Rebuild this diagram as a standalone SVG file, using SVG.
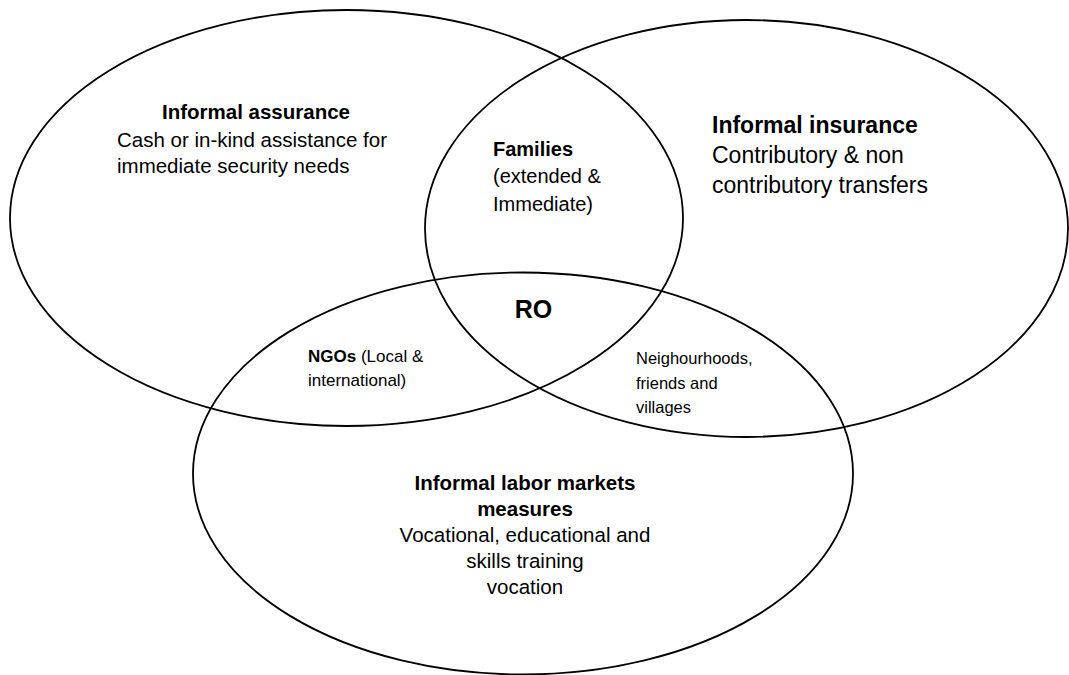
<svg xmlns="http://www.w3.org/2000/svg" width="1069" height="675" viewBox="0 0 1069 675">
<style>
.c{fill:none;stroke:#000;stroke-width:1.8}
text{font-family:"Liberation Sans",Arial,sans-serif;fill:#000}
.b{font-weight:bold}
</style>
<rect width="1069" height="675" fill="#fff"/>
<g id="circles">
<ellipse id="assurance" class="c" cx="346.5" cy="218" rx="336.5" ry="208"/>
<ellipse id="insurance" class="c" cx="746.5" cy="228.5" rx="321.5" ry="208.5"/>
<ellipse id="labor" class="c" cx="523" cy="473.5" rx="330" ry="201"/>
</g>
<g id="label-assurance" font-size="20.5">
<text class="b" x="256" y="119" text-anchor="middle">Informal assurance</text>
<text x="117" y="147">Cash or in-kind assistance for</text>
<text x="117" y="173">immediate security needs</text>
</g>
<g id="label-insurance" font-size="23">
<text class="b" x="712" y="133">Informal insurance</text>
<text x="712" y="163">Contributory &amp; non</text>
<text x="712" y="193">contributory transfers</text>
</g>
<g id="label-families" font-size="20">
<text class="b" x="493" y="156">Families</text>
<text x="493" y="183">(extended &amp;</text>
<text x="493" y="211">Immediate)</text>
</g>
<g id="label-ro">
<text class="b" x="533.5" y="318" font-size="25" text-anchor="middle">RO</text>
</g>
<g id="label-ngos" font-size="17">
<text x="308" y="362"><tspan class="b">NGOs</tspan> (Local &amp;</text>
<text x="308" y="386">international)</text>
</g>
<g id="label-neighbourhoods" font-size="16.5">
<text x="636" y="364">Neighourhoods,</text>
<text x="636" y="389">friends and</text>
<text x="636" y="413">villages</text>
</g>
<g id="label-labor" font-size="20.5" text-anchor="middle">
<text class="b" x="525" y="490">Informal labor markets</text>
<text class="b" x="525" y="516">measures</text>
<text x="525" y="542">Vocational, educational and</text>
<text x="525" y="568">skills training</text>
<text x="525" y="594">vocation</text>
</g>
</svg>
